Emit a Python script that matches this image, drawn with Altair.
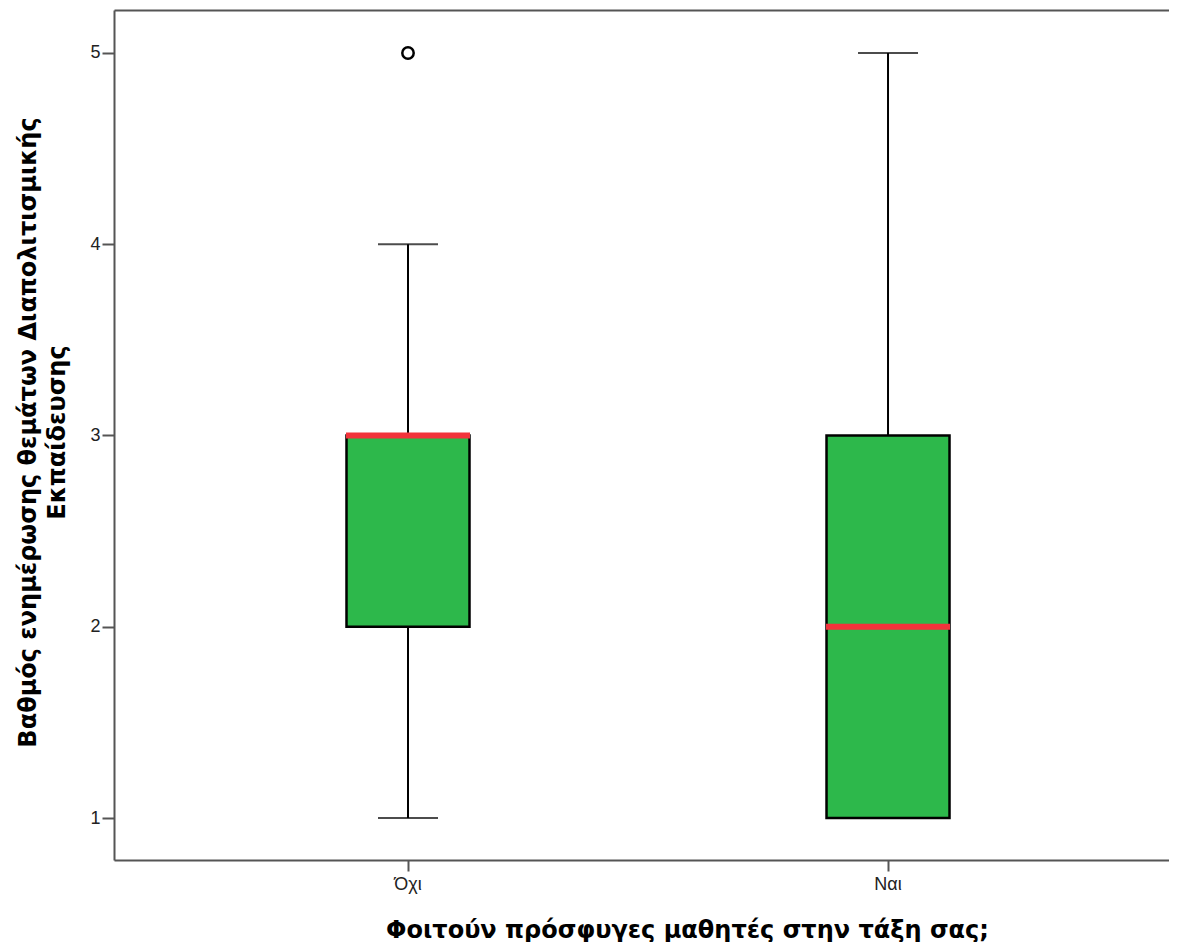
import altair as alt
import pandas as pd

categories = ["Όχι", "Ναι"]
whisker_low = [1, 1]
q1 = [2, 1]
median = [3, 2]
q3 = [3, 3]
whisker_high = [4, 5]
outlier_cat = ["Όχι"]
outlier_val = [5]

df = pd.DataFrame({
    "cat": categories,
    "lo": whisker_low,
    "q1": q1,
    "med": median,
    "q3": q3,
    "hi": whisker_high,
})
out_df = pd.DataFrame({"cat": outlier_cat, "val": outlier_val})

y_title = ["Βαθμός  ενημέρωσης θεμάτων Διαπολιτισμικής", "Εκπαίδευσης"]
x_title = "Φοιτούν πρόσφυγες μαθητές στην τάξη σας;"

AXIS_GRAY = "#555555"

xscale = alt.Scale(domain=categories, paddingInner=0.74375, paddingOuter=0.4708, align=0.5144)
yscale = alt.Scale(domain=[0.7804, 5.2248], nice=False, zero=False)

x_enc = alt.X(
    "cat:N",
    scale=xscale,
    sort=categories,
    axis=alt.Axis(
        title=x_title,
        labelAngle=0,
        labelFont="Liberation Sans",
        labelFontSize=18,
        labelColor="#222",
        labelPadding=4,
        tickSize=11,
        tickColor=AXIS_GRAY,
        tickWidth=2,
        domainColor=AXIS_GRAY,
        domainWidth=2,
        titleFont="DejaVu Sans",
        titleFontWeight="bold",
        titleFontSize=24,
        titleColor="#000",
        titleX=573,
        titleY=77,
        titleAlign="center",
        titleBaseline="alphabetic",
    ),
)

y_enc = alt.Y(
    "lo:Q",
    scale=yscale,
    axis=alt.Axis(
        title=y_title,
        values=[1, 2, 3, 4, 5],
        format="d",
        grid=False,
        labelFont="Liberation Sans",
        labelFontSize=18,
        labelColor="#222",
        labelPadding=2,
        tickSize=12,
        tickColor=AXIS_GRAY,
        tickWidth=2,
        domainColor=AXIS_GRAY,
        domainWidth=2,
        titleFont="DejaVu Sans",
        titleFontWeight="bold",
        titleFontSize=24,
        titleColor="#000",
        titleAngle=-90,
        titleX=-79,
        titleY=422,
        titleAlign="center",
        titleBaseline="alphabetic",
        titleLineHeight=29,
    ),
)


def x_plain():
    return alt.X("cat:N", scale=xscale, sort=categories, axis=None)


base = alt.Chart(df)

# invisible layer that carries the top frame line as a top axis domain
top_frame = base.mark_tick(opacity=0).encode(
    x=alt.X(
        "cat:N",
        scale=xscale,
        sort=categories,
        axis=alt.Axis(
            orient="top", labels=False, ticks=False, title=None,
            domainColor=AXIS_GRAY, domainWidth=2,
        ),
    ),
    y=alt.Y("lo:Q", scale=yscale),
)

whiskers = base.mark_rule(color="#000", strokeWidth=2).encode(
    x=x_enc, y=y_enc, y2="hi:Q"
)
cap_lo = base.mark_tick(color="#000", size=60, thickness=2).encode(
    x=x_plain(), y="lo:Q"
)
cap_hi = base.mark_tick(color="#000", size=60, thickness=2).encode(
    x=x_plain(), y="hi:Q"
)
box = base.mark_bar(color="#2DB84B", stroke="#000", strokeWidth=2.5).encode(
    x=x_plain(), y="q1:Q", y2="q3:Q"
)
med = base.mark_tick(color="#F2333B", size=124, thickness=6, opacity=1).encode(
    x=x_plain(), y="med:Q"
)
outl = alt.Chart(out_df).mark_point(
    shape="circle", filled=False, color="#000", size=130, strokeWidth=2.5, opacity=1
).encode(x=x_plain(), y="val:Q")

chart = (
    alt.layer(whiskers, top_frame, cap_lo, cap_hi, box, med, outl)
    .resolve_axis(x="independent")
    .properties(
        width=1055,
        height=850,
        padding={"left": 106, "top": 2, "right": 0, "bottom": 82},
        autosize=alt.AutoSizeParams(type="none"),
        background="white",
    )
    .configure_view(stroke=None)
)

chart.save("out.html", embed_options={"renderer": "svg", "actions": False})
